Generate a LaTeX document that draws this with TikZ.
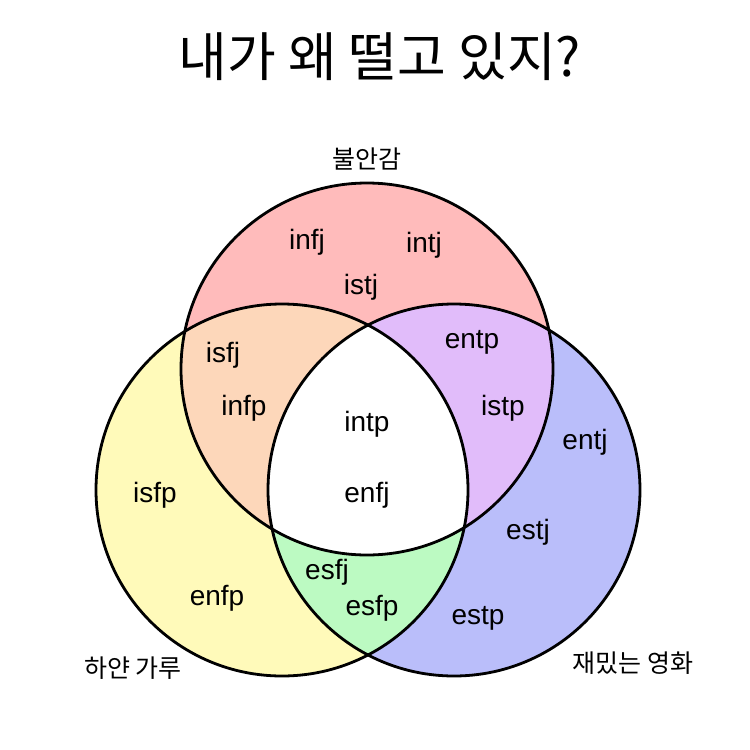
\documentclass[tikz,border=0pt]{standalone}
\usepackage{fontspec}
\setmainfont{Liberation Sans}
\newfontfamily\kr{Noto Sans CJK KR}
\definecolor{cpink}{RGB}{255,187,187}
\definecolor{cyellow}{RGB}{255,250,186}
\definecolor{cblue}{RGB}{186,190,250}
\definecolor{cpeach}{RGB}{253,215,186}
\definecolor{clav}{RGB}{225,188,250}
\definecolor{cgreen}{RGB}{188,250,194}
\begin{document}
\begin{tikzpicture}[x=1pt,y=-1pt,
  mb/.style={font=\fontsize{28}{28}\selectfont, inner sep=0pt},
  klabel/.style={font=\kr\fontsize{25}{25}\selectfont, inner sep=0pt},
  ring/.style={draw=black, line width=2.8pt}]
\useasboundingbox[fill=white] (0,0) rectangle (750,750);
\coordinate (cT) at (367,369);
\coordinate (cL) at (282,490);
\coordinate (cR) at (454,490);
% base fills
\fill[cpink] (cT) circle[radius=186pt];
\fill[cyellow] (cL) circle[radius=186pt];
\fill[cblue] (cR) circle[radius=186pt];
\begin{scope}
  \clip (cL) circle[radius=186pt];
  \fill[cgreen] (cR) circle[radius=186pt];
\end{scope}
\begin{scope}
  \clip (cT) circle[radius=186pt];
  \fill[cpeach] (cL) circle[radius=186pt];
  \fill[clav] (cR) circle[radius=186pt];
  \clip (cL) circle[radius=186pt];
  \fill[white] (cR) circle[radius=186pt];
\end{scope}
% outlines
\draw[ring] (cT) circle[radius=186pt];
\draw[ring] (cL) circle[radius=186pt];
\draw[ring] (cR) circle[radius=186pt];
% title and set labels
\node[font=\kr\fontsize{53}{53}\selectfont, inner sep=0pt] (title) at (380,57) {내가 왜 떨고 있지?};
\node[klabel] (lt) at (367,159) {불안감};
\node[klabel] (ll) at (133,668) {하얀 가루};
\node[klabel] (lr) at (633,663) {재밌는 영화};
% types
\node[mb] (infj) at (307,242) {infj};
\node[mb] (intj) at (424,245) {intj};
\node[mb] (istj) at (361,287) {istj};
\node[mb] (isfj) at (223,355) {isfj};
\node[mb] (infp) at (244,408) {infp};
\node[mb] (isfp) at (155,495) {isfp};
\node[mb] (enfp) at (217,598) {enfp};
\node[mb] (entp) at (472,342) {entp};
\node[mb] (istp) at (503,408) {istp};
\node[mb] (entj) at (585,442) {entj};
\node[mb] (estj) at (528,532) {estj};
\node[mb] (estp) at (478,618) {estp};
\node[mb] (intp) at (367,424) {intp};
\node[mb] (enfj) at (367,495) {enfj};
\node[mb] (esfj) at (327,572) {esfj};
\node[mb] (esfp) at (372,608) {esfp};
\end{tikzpicture}
\end{document}
